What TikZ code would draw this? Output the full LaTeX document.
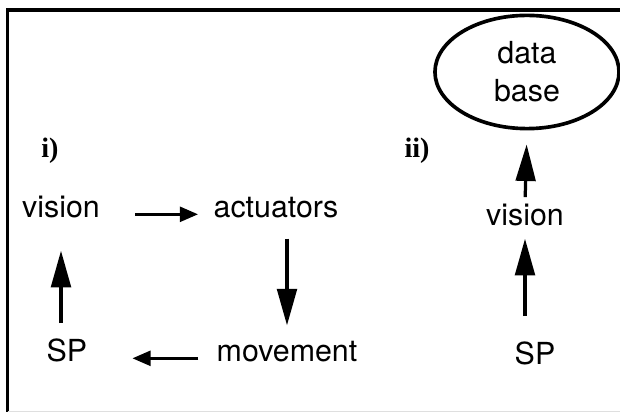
\documentclass[tikz,border=0pt]{standalone}
\usepackage{fontspec}
\setmainfont{TeX Gyre Heros}
\newfontfamily\romaifont{Liberation Serif}
\usetikzlibrary{arrows.meta,shapes.geometric}
\tikzset{
  szo/.style={inner sep=0pt,anchor=base,font=\fontsize{21.6}{27}\selectfont},
  jel/.style={inner sep=0pt,anchor=base,font=\fontsize{20}{24}\romaifont\bfseries},
  ell/.style={ellipse,draw,line width=2.6pt,inner sep=0pt,
    minimum width=4.6cm,minimum height=2.83cm,align=center,
    font=\fontsize{21.6}{27}\selectfont},
  nyilf/.style={line width=2.3pt,-{Triangle[length=26pt,width=14pt]}},
  nyilv/.style={line width=2.3pt,-{Triangle[length=13pt,width=10.5pt]}},
  keret/.style={line width=2.6pt},
}
\begin{document}
\begin{tikzpicture}[x=0.025cm,y=-0.025cm]
  \useasboundingbox (0,0) rectangle (620,412);
  % keret
  \draw[keret] (7.5,412) -- (7.5,10) -- (620,10);
  \draw[gray!25,line width=0.6pt] (7.5,411) -- (620,411);
  % i) kor
  \node[jel] (ia) at (50,158) {i)};
  \node[szo] (visL) at (61,218) {vision};
  \node[szo] (actu) at (276,218) {actuators};
  \node[szo] (move) at (287,362) {movement};
  \node[szo] (spL) at (67,362) {SP};
  \draw[nyilv,shorten <=0.88cm,shorten >=0.38cm] (visL.mid east) -- (actu.mid west);
  \draw[nyilf,shorten <=0.5cm,shorten >=0.4cm] (actu.south -| move.north) -- (move.north);
  \draw[nyilv,shorten <=0.45cm,shorten >=1.12cm] (move.mid west) -- (spL.mid east);
  \draw[nyilf,shorten <=0.4cm,shorten >=0.8cm] (spL.north -| visL.south) -- (visL.south);
  % ii) lanc
  \node[jel] (iib) at (417,158) {ii)};
  \node[ell] (db) at (527,72) {data\\base};
  \node[szo] (visR) at (525,226) {vision};
  \node[szo] (spR) at (535,365) {SP};
  \draw[nyilf,shorten <=0.65cm,shorten >=0.3cm] (spR.north -| visR.south) -- (visR.south);
  \draw[nyilf,shorten <=0.18cm,shorten >=0.35cm] (visR.north) -- (db.south);
\end{tikzpicture}
\end{document}
